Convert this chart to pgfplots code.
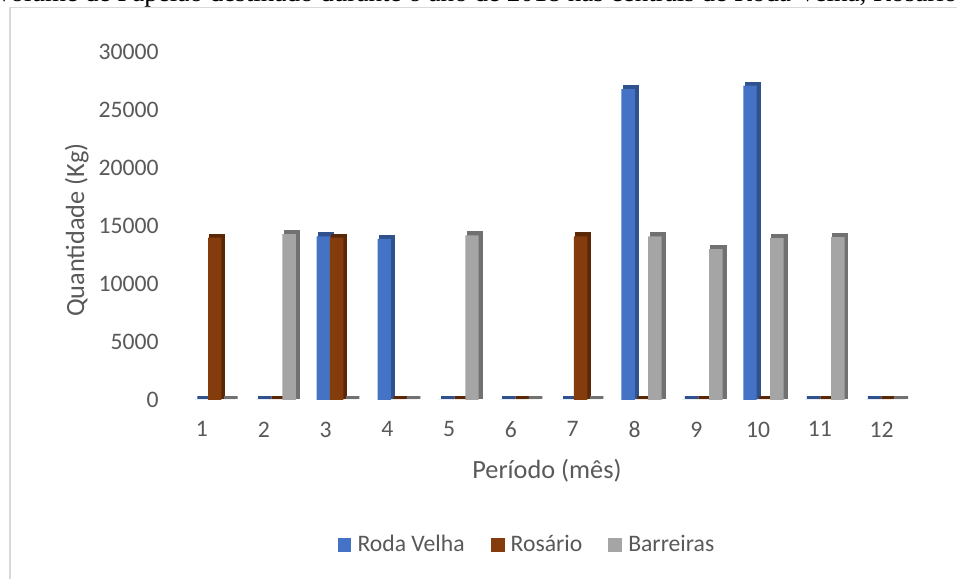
\documentclass[border=0pt]{standalone}
\usepackage{pgfplots}
\usepackage{pgfplotstable}
\pgfplotsset{compat=1.18}
\usepackage{fontspec}
\setmainfont{Carlito}
\newfontfamily\titlefont{Liberation Serif}

\definecolor{rvFront}{HTML}{4472C4}
\definecolor{rvSide}{HTML}{2F528F}
\definecolor{roFront}{HTML}{843C0C}
\definecolor{roSide}{HTML}{5A2807}
\definecolor{baFront}{HTML}{A5A5A5}
\definecolor{baSide}{HTML}{717171}
\definecolor{txt}{HTML}{595959}
\definecolor{frameGray}{HTML}{D9D9D9}

% Papelão (kg) por mês em cada central
\pgfplotstableread{
mes rodavelha rosario barreiras
1   0     14000 0
2   0     0     14300
3   14100 14000 0
4   13900 0     0
5   0     0     14200
6   0     0     0
7   0     14100 0
8   26800 0     14100
9   0     0     13000
10  27100 0     13950
11  0     0     14050
12  0     0     0
}\dados

\begin{document}
\begin{tikzpicture}[x=1pt,y=1pt]
\useasboundingbox (0,0) rectangle (364,220.2);
\fill[white] (0,0) rectangle (364,220.2);
\draw[frameGray, line width=0.6pt] (3.8,217.4) rectangle (390,-20);
\node[anchor=base west, inner sep=0pt, text=black,
      font=\titlefont\fontsize{10.3}{12}\selectfont] at (-2.3,219.5)
  {Volume de Papelão destinado durante o ano de 2018 nas centrais de Roda Velha, Rosário};
\begin{axis}[
  at={(65.45pt,68.07pt)}, anchor=south west,
  scale only axis, width=282.9pt, height=132.35pt,
  xmin=0.3, xmax=12.5, ymin=0, ymax=30000,
  ybar, bar width=0.22,
  axis line style={draw=none}, tick style={draw=none},
  xtick={0.790,1.804,2.817,3.831,4.844,5.858,6.872,7.885,8.899,9.912,10.926,11.940},
  xticklabels={1,2,3,4,5,6,7,8,9,10,11,12},
  ytick={0,5000,10000,15000,20000,25000,30000},
  scaled y ticks=false,
  /pgf/number format/.cd, 1000 sep={}, assume math mode=true, /pgfplots/.cd,
  ticklabel style={font=\fontsize{9}{11}\selectfont, text=txt},
  xticklabel style={inner sep=0pt, anchor=north, yshift=-3.8pt},
  yticklabel style={inner sep=0pt, anchor=east, xshift=-4.9pt},
  xlabel={Período (mês)},
  ylabel={Quantidade (Kg)},
  label style={font=\fontsize{10}{12}\selectfont, text=txt},
  xlabel style={at={(axis description cs:0.504,-0.204)}, anchor=center, inner sep=0pt},
  ylabel style={at={(axis description cs:-0.1282,0.4885)}, anchor=center, rotate=0, inner sep=0pt},
  legend columns=3,
  legend style={at={(axis description cs:0.4757,-0.4175)}, anchor=center,
    draw=none, fill=none, inner sep=0pt, font=\fontsize{9}{11}\selectfont, text=txt,
    nodes={inner sep=0pt, anchor=west},
    /tikz/every odd column/.append style={column sep=2.3pt},
    /tikz/every even column/.append style={column sep=9.9pt}},
  legend image code/.code={\fill[#1] (0pt,-2.65pt) rectangle (5.3pt,2.65pt);},
]
% depth faces (side and top) behind the front faces
\addplot[bar shift=-0.22, fill=rvSide, draw=rvSide, line width=1pt, xshift=1pt, yshift=1pt, forget plot]
  table[x=mes, y=rodavelha]{\dados};
\addplot[bar shift=0, fill=roSide, draw=roSide, line width=1pt, xshift=1pt, yshift=1pt, forget plot]
  table[x=mes, y=rosario]{\dados};
\addplot[bar shift=0.22, fill=baSide, draw=baSide, line width=1pt, xshift=1pt, yshift=1pt, forget plot]
  table[x=mes, y=barreiras]{\dados};
% front faces
\addplot[bar shift=-0.22, fill=rvFront, draw=none] table[x=mes, y=rodavelha]{\dados};
\addlegendentry{Roda Velha}
\addplot[bar shift=0, fill=roFront, draw=none] table[x=mes, y=rosario]{\dados};
\addlegendentry{Rosário}
\addplot[bar shift=0.22, fill=baFront, draw=none] table[x=mes, y=barreiras]{\dados};
\addlegendentry{Barreiras}
\end{axis}
\end{tikzpicture}
\end{document}
